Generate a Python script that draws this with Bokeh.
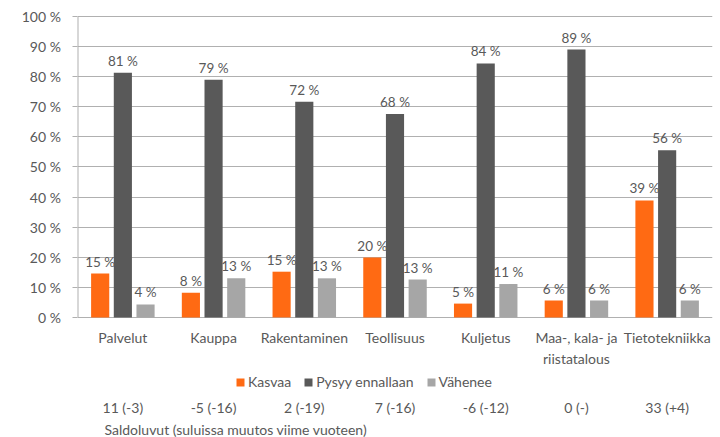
from bokeh.plotting import figure
from bokeh.models import (Range1d, FixedTicker, PrintfTickFormatter, ColumnDataSource,
                          Legend, LegendItem, Label)
from bokeh.core.properties import value
from bokeh.embed import file_html
from bokeh.resources import INLINE

categories = ["Palvelut", "Kauppa", "Rakentaminen", "Teollisuus", "Kuljetus",
              "Maa-, kala- ja\nriistatalous", "Tietotekniikka"]
kasvaa = [14.6, 8.2, 15.2, 19.9, 4.6, 5.6, 38.9]
pysyy = [81.3, 79.0, 71.7, 67.6, 84.4, 89.0, 55.6]
vahenee = [4.3, 13.0, 13.0, 12.6, 11.1, 5.6, 5.6]
saldo = ["11 (-3)", "-5 (-16)", "2 (-19)", "7 (-16)", "-6 (-12)", "0 (-)", "33 (+4)"]
series_names = ["Kasvaa", "Pysyy ennallaan", "Vähenee"]
y_ticks = list(range(0, 101, 10))
footnote = "Saldoluvut (suluissa muutos viime vuoteen)"

FONT = "Lato"
TXT = "#595959"
colors = ["#ff6a13", "#595959", "#a6a6a6"]

p = figure(frame_width=635, frame_height=427, min_border_left=77, min_border_right=8,
           min_border_top=10, min_border_bottom=0, x_axis_type=None,
           x_range=Range1d(0, 7), y_range=Range1d(-39.9, 102),
           output_backend="svg", toolbar_location=None, tools="")
p.outline_line_color = None
p.background_fill_color = "white"
p.border_fill_color = "white"
p.xgrid.visible = False
p.ygrid.ticker = FixedTicker(ticks=y_ticks)
p.ygrid.grid_line_color = "#b0b0b0"
p.ygrid.grid_line_width = 1
p.yaxis.ticker = FixedTicker(ticks=y_ticks)
p.yaxis.formatter = PrintfTickFormatter(format="%d  %%")
p.yaxis.axis_line_color = None
p.yaxis.major_tick_out = 5
p.yaxis.major_tick_in = 0
p.yaxis.minor_tick_line_color = None
p.yaxis.major_tick_line_color = "#b0b0b0"
p.yaxis.major_label_standoff = 8
p.yaxis.major_label_text_font = FONT
p.yaxis.major_label_text_font_size = "14px"
p.yaxis.major_label_text_color = TXT

# vertical axis line from 0 to 100
p.segment(x0=[0], y0=[y_ticks[0]], x1=[0], y1=[y_ticks[-1]], line_color="#b0b0b0", line_width=2)

centers = [i + 0.5 for i in range(len(categories))]
offsets = [-0.25, 0.0, 0.25]
renderers = []
for vals, off, col in zip([kasvaa, pysyy, vahenee], offsets, colors):
    xs = [c + off for c in centers]
    src = ColumnDataSource(dict(x=xs, top=vals, lab=[f"{round(v)} %" for v in vals]))
    r = p.vbar(x="x", top="top", bottom=0, width=0.2, source=src, fill_color=col, line_color=None)
    renderers.append(r)
    p.text(x="x", y="top", text="lab", source=src, text_align="center", text_baseline="bottom",
           y_offset=-4, text_font=value(FONT), text_font_size="13.5px", text_color=TXT)

# category labels
csrc = ColumnDataSource(dict(x=centers, t=categories, s=saldo))
p.text(x="x", y=-3.9, text="t", source=csrc, text_align="center", text_baseline="top",
       text_font=value(FONT), text_font_size="14px", text_color=TXT, text_line_height=1.2)
# saldo row
p.text(x="x", y=-29.9, text="s", source=csrc, text_align="center", text_baseline="middle",
       text_font=value(FONT), text_font_size="14px", text_color=TXT)

p.add_layout(Label(x=27, y=8, x_units="screen", y_units="screen", text=footnote,
                   text_baseline="middle", text_font=FONT, text_font_size="14px",
                   text_color=TXT))

legend = Legend(items=[LegendItem(label=n, renderers=[r]) for n, r in zip(series_names, renderers)],
                orientation="horizontal", location=(158, 47), glyph_width=10, glyph_height=10,
                label_standoff=3, spacing=12, padding=0, margin=0, border_line_color=None,
                background_fill_alpha=0, label_text_font=FONT, label_text_font_size="14px",
                label_text_color=TXT, label_height=14)
p.add_layout(legend)

open("out.html", "w").write(file_html(p, INLINE))
